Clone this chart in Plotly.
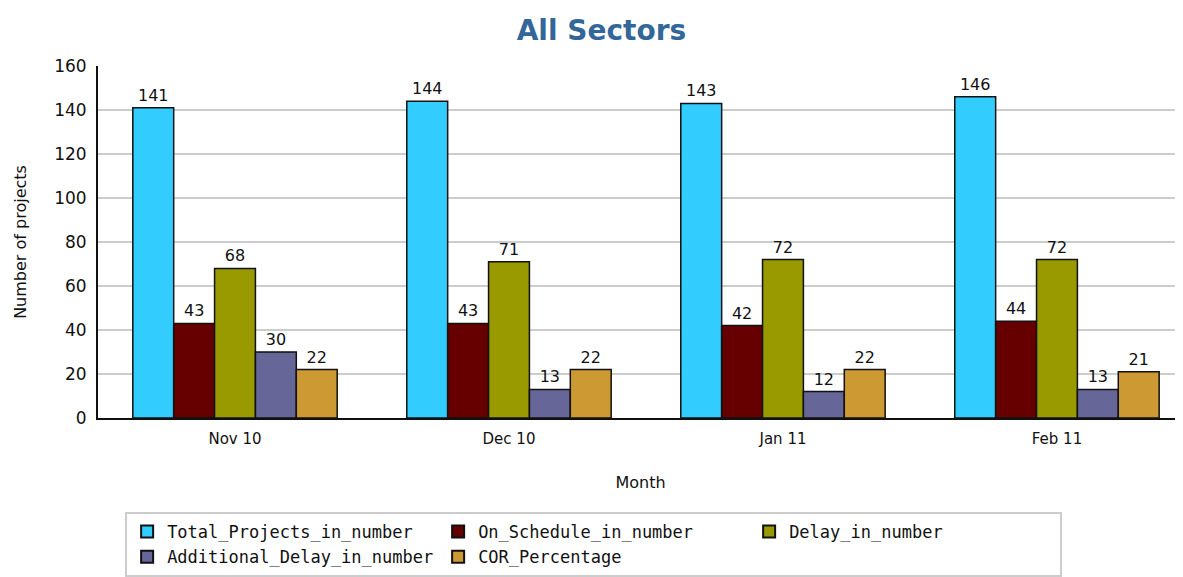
import plotly.graph_objects as go

months = ["Nov 10", "Dec 10", "Jan 11", "Feb 11"]
total_projects = [141, 144, 143, 146]
on_schedule = [43, 43, 42, 44]
delay = [68, 71, 72, 72]
additional_delay = [30, 13, 12, 13]
cor_percentage = [22, 22, 22, 21]

series = [
    ("Total_Projects_in_number", total_projects, "#33ccff"),
    ("On_Schedule_in_number", on_schedule, "#660000"),
    ("Delay_in_number", delay, "#999900"),
    ("Additional_Delay_in_number", additional_delay, "#666699"),
    ("COR_Percentage", cor_percentage, "#cc9933"),
]

fig = go.Figure()
for name, vals, color in series:
    fig.add_trace(go.Bar(
        x=months, y=vals, name=name,
        marker=dict(color=color, line=dict(color="#111111", width=1.5)),
        text=vals, textposition="outside", cliponaxis=False,
        textfont=dict(family="DejaVu Sans", size=16, color="#111111"),
    ))

# page has an 8px body margin, so the figure is sized to fill the rest of the window
fig.update_layout(
    width=1175, height=569,
    margin=dict(l=90, r=0, t=58, b=157),
    paper_bgcolor="white", plot_bgcolor="white",
    barmode="group", bargap=0.254, bargroupgap=0,
    title=dict(text="<b>All Sectors</b>", x=0.505, xanchor="center", y=0.961, yanchor="middle",
               font=dict(family="DejaVu Sans", size=28, color="#336699")),
    font=dict(family="DejaVu Sans", size=16, color="#111111"),
    xaxis=dict(range=[-0.5, 3.46], showline=True, linecolor="#111111", linewidth=2,
               ticks="", tickfont=dict(size=15), ticklabelstandoff=6,
               title=dict(text="Month", standoff=30, font=dict(size=16))),
    yaxis=dict(range=[0, 160], dtick=20, showline=True, linecolor="#111111", linewidth=2,
               gridcolor="#cccccc", gridwidth=1.5, zeroline=False, ticks="",
               tickfont=dict(size=17), ticklabelstandoff=6,
               title=dict(text="Number of projects", standoff=24, font=dict(size=16))),
    legend=dict(orientation="h", x=0.025, y=-0.268, xanchor="left", yanchor="top",
                entrywidth=266, bgcolor="white", bordercolor="#cccccc", borderwidth=2,
                font=dict(family="DejaVu Sans Mono", size=17, color="#111111"),
                itemsizing="constant", traceorder="normal"),
)

fig.write_html("out.html")
